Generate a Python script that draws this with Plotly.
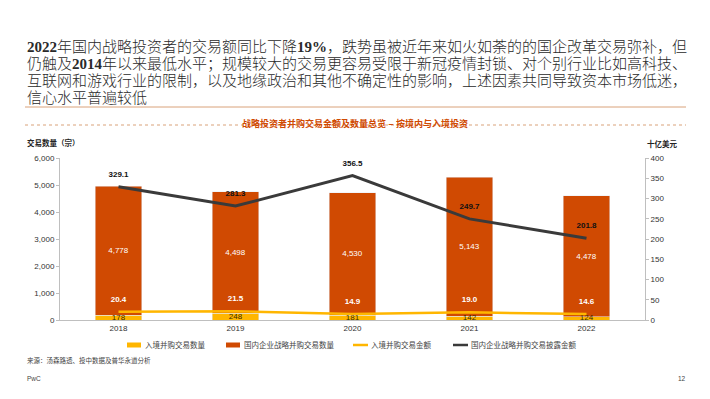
import plotly.graph_objects as go

years = ["2018", "2019", "2020", "2021", "2022"]
inbound_count = [178, 248, 181, 142, 124]
domestic_count = [4778, 4498, 4530, 5143, 4478]
inbound_value = [20.4, 21.5, 14.9, 19.0, 14.6]
domestic_value = [329.1, 281.3, 356.5, 249.7, 201.8]

title_lines = [
    "<b>2022</b>年国内战略投资者的交易额同比下降<b>19%</b>，跌势虽被近年来如火如荼的的国企改革交易弥补，但",
    "仍触及<b>2014</b>年以来最低水平；规模较大的交易更容易受限于新冠疫情封锁、对个别行业比如高科技、",
    "互联网和游戏行业的限制，以及地缘政治和其他不确定性的影响，上述因素共同导致资本市场低迷，",
    "信心水平普遍较低",
]
subtitle = "战略投资者并购交易金额及数量总览 – 按境内与入境投资"
names = ["入境并购交易数量", "国内企业战略并购交易数量", "入境并购交易金额", "国内企业战略并购交易披露金额"]

ORANGE = "#D04A02"
YELLOW = "#FFB600"
DARK = "#3A3A3A"
GREY = "#BFBFBF"
FONT = "Liberation Sans, Noto Sans CJK SC, sans-serif"
CLEAR = "rgba(0,0,0,0)"

W, H = 710, 399
L, R, T, B = 60, 645, 158, 320


def px(x):
    return (x - L) / (R - L)


def py(y):
    return (B - y) / (B - T)


fig = go.Figure()
fig.add_trace(go.Bar(x=years, y=inbound_count, name=names[0], marker_color=YELLOW,
                     textposition="none", width=0.4))
fig.add_trace(go.Bar(x=years, y=domestic_count, name=names[1], marker_color=ORANGE,
                     text=[f"{v:,}" for v in domestic_count], textposition="inside",
                     insidetextanchor="middle", textfont=dict(color="white", size=8), width=0.4))
fig.add_trace(go.Scatter(x=years, y=[v / 2 for v in inbound_count], mode="text",
                         text=[f"{v:,}" for v in inbound_count],
                         textfont=dict(color="#3A2A00", size=8), hoverinfo="skip"))
fig.add_trace(go.Scatter(x=years, y=inbound_value, name=names[2], yaxis="y2",
                         mode="lines+markers+text", line=dict(color=YELLOW, width=2.5),
                         marker=dict(size=11, color=CLEAR),
                         text=[f"<b>{v:.1f}</b>" for v in inbound_value],
                         textposition="top center", textfont=dict(color="white", size=8)))
fig.add_trace(go.Scatter(x=years, y=domestic_value, name=names[3], yaxis="y2",
                         mode="lines+markers+text", line=dict(color=DARK, width=3),
                         marker=dict(size=11, color=CLEAR),
                         text=[f"<b>{v:.1f}</b>" for v in domestic_value],
                         textposition="top center", textfont=dict(color="#111", size=8)))

annotations = []
for i, line in enumerate(title_lines):
    annotations.append(dict(x=px(25), y=py(47 + 17 * i), xref="paper", yref="paper",
                            text=line, showarrow=False, xanchor="left", yanchor="middle",
                            font=dict(family="Liberation Serif, Noto Sans CJK SC", size=15,
                                      color="#2a2a2a", weight=300)))
annotations += [
    dict(x=px(355), y=py(116), xref="paper", yref="paper", text=f"<b>{subtitle}</b>",
         showarrow=False, font=dict(family=FONT, size=9, color=ORANGE)),
    dict(x=px(25), y=py(143), xref="paper", yref="paper", text="<b>交易数量（宗）</b>",
         showarrow=False, xanchor="left", yanchor="middle", font=dict(family=FONT, size=7.5, color="#222")),
    dict(x=px(645), y=py(144), xref="paper", yref="paper", text="<b>十亿美元</b>",
         showarrow=False, xanchor="left", yanchor="middle", font=dict(family=FONT, size=7.5, color="#222")),
    dict(x=px(25), y=py(367), xref="paper", yref="paper", text="来源：汤森路透、投中数据及普华永道分析",
         showarrow=False, xanchor="left", font=dict(family=FONT, size=6.5, color="#444")),
    dict(x=px(25), y=py(384), xref="paper", yref="paper", text="PwC",
         showarrow=False, xanchor="left", font=dict(family=FONT, size=6.5, color="#444")),
    dict(x=px(688), y=py(384), xref="paper", yref="paper", text="12",
         showarrow=False, xanchor="right", font=dict(family=FONT, size=6.5, color="#444")),
]

shapes = [
    dict(type="line", xref="paper", yref="paper", x0=px(25), x1=px(686), y0=py(107), y1=py(107),
         line=dict(color="#D9A27A", width=1)),
    dict(type="line", xref="paper", yref="paper", x0=px(25), x1=px(686), y0=py(125), y1=py(125),
         line=dict(color="#D9A27A", width=1, dash="dot")),
]

# manual legend
legend_items = [
    (names[0], "bar", YELLOW, 127),
    (names[1], "bar", ORANGE, 226),
    (names[2], "line", YELLOW, 353),
    (names[3], "line", DARK, 453),
]
LY = 345
for name, kind, color, x0 in legend_items:
    if kind == "bar":
        shapes.append(dict(type="rect", xref="paper", yref="paper", x0=px(x0), x1=px(x0 + 14),
                           y0=py(LY + 2.5), y1=py(LY - 2.5), fillcolor=color, line=dict(width=0)))
    else:
        shapes.append(dict(type="line", xref="paper", yref="paper", x0=px(x0), x1=px(x0 + 15),
                           y0=py(LY), y1=py(LY), line=dict(color=color, width=2.5)))
    annotations.append(dict(x=px(x0 + 16), y=py(LY), xref="paper", yref="paper", text=name,
                            showarrow=False, xanchor="left", yanchor="middle",
                            font=dict(family=FONT, size=7.5, color="#444")))

fig.update_layout(
    width=W, height=H,
    margin=dict(l=L, r=W - R, t=T, b=H - B, pad=0, autoexpand=False),
    paper_bgcolor="white", plot_bgcolor="white",
    barmode="stack", bargap=0.6,
    font=dict(family=FONT, size=8, color="#333"),
    showlegend=False,
    xaxis=dict(showline=True, linecolor=GREY, linewidth=1, ticks="", tickfont=dict(size=8)),
    yaxis=dict(range=[0, 6000], dtick=1000, tickformat=",", showgrid=False, showline=True,
               linecolor=GREY, ticks="outside", ticklen=3, tickcolor=GREY, zeroline=False,
               tickfont=dict(size=8)),
    yaxis2=dict(range=[0, 400], dtick=50, overlaying="y", side="right", showgrid=False,
                showline=True, linecolor=GREY, ticks="outside", ticklen=3, tickcolor=GREY,
                zeroline=False, tickfont=dict(size=8)),
    annotations=annotations, shapes=shapes,
)

fig.write_html("out.html", config={"displayModeBar": False},
               post_script="document.body.style.margin='0';document.body.style.padding='0';")
